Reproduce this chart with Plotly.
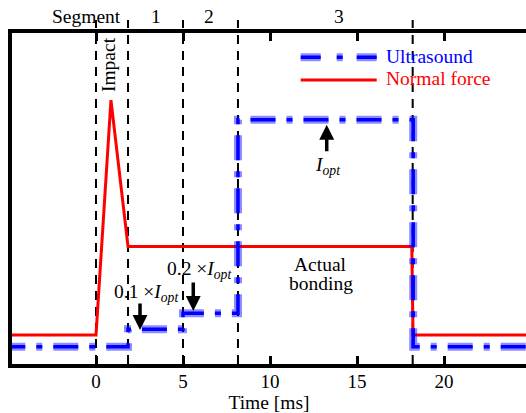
import plotly.graph_objects as go

# ---------------- data ----------------
# Normal force (arbitrary units) vs time [ms]
force_t = [-5.5, 0.0, 0.86, 1.84, 18.15, 18.22, 25.0]
force_v = [0.90, 0.90, 7.93, 3.55, 3.55, 0.90, 0.90]

# Ultrasound intensity step profile (value holds until next time)
us_t = [-5.5, 1.84, 5.0, 8.16, 18.23, 25.0]
us_v = [0.55, 1.07, 1.55, 7.34, 0.55, 0.55]

# segment boundaries (vertical dashed lines)
segment_bounds = [0.0, 1.84, 5.0, 8.16, 18.2]
segment_labels = ["1", "2", "3"]
segment_label_x = [3.45, 6.5, 13.97]

tick_vals = [0, 5, 10, 15, 20]

# ---------------- layout helpers ----------------
W, H = 526, 413
ML, MR, MT, MB = 12, 0, 33, 49
PW, PH = W - ML - MR, H - MT - MB
X_PER_PX = 1 / 17.4
Y_PER_PX = 1 / 33.4
x0 = -(96 - ML) * X_PER_PX
x1 = x0 + PW * X_PER_PX
y_bot = (365 - (H - MB)) * Y_PER_PX
y_top = (365 - MT) * Y_PER_PX


def px(x):
    return (x - ML) / PW


def py(y):
    return (H - MB - y) / PH


FONT = "Liberation Serif"
FS = 19.5
BLUE = "#0000ff"
HALO = "rgba(0,0,255,0.45)"
RED = "#ff0000"
US_DASH = "25px,11px,6px,11px"

fig = go.Figure()

fig.add_trace(go.Scatter(x=force_t, y=force_v, mode="lines",
                         line=dict(color=RED, width=3), showlegend=False,
                         hoverinfo="skip"))
fig.add_trace(go.Scatter(x=us_t, y=us_v, mode="lines", line_shape="hv",
                         line=dict(color=HALO, width=8, dash=US_DASH),
                         showlegend=False, hoverinfo="skip"))
fig.add_trace(go.Scatter(x=us_t, y=us_v, mode="lines", line_shape="hv",
                         line=dict(color=BLUE, width=3.5, dash=US_DASH),
                         showlegend=False, hoverinfo="skip"))

shapes = []
for b in segment_bounds:
    shapes.append(dict(type="line", xref="x", yref="paper", x0=b, x1=b,
                       y0=0, y1=py(20), layer="below",
                       line=dict(color="black", width=2, dash="9px,7px")))

# manual legend samples
lx0, lx1 = px(300.7), px(376.7)
shapes.append(dict(type="line", xref="paper", yref="paper", x0=lx0, x1=lx1,
                   y0=py(57.3), y1=py(57.3),
                   line=dict(color=HALO, width=8, dash="20px,16px,6px,14px")))
shapes.append(dict(type="line", xref="paper", yref="paper", x0=lx0, x1=lx1,
                   y0=py(57.3), y1=py(57.3),
                   line=dict(color=BLUE, width=3.5, dash="20px,16px,6px,14px")))
shapes.append(dict(type="line", xref="paper", yref="paper", x0=lx0, x1=lx1,
                   y0=py(80), y1=py(80), line=dict(color=RED, width=3)))

tf = dict(family=FONT, size=FS, color="black")
ann = []
ann.append(dict(text="Ultrasound", xref="paper", yref="paper", x=px(384),
                y=py(57), xanchor="left", yanchor="middle", showarrow=False,
                font=dict(family=FONT, size=FS, color=BLUE)))
ann.append(dict(text="Normal force", xref="paper", yref="paper", x=px(384),
                y=py(79), xanchor="left", yanchor="middle", showarrow=False,
                font=dict(family=FONT, size=FS, color=RED)))
ann.append(dict(text="Segment", xref="paper", yref="paper", x=px(123),
                y=py(17), xanchor="right", yanchor="middle", showarrow=False,
                font=tf))
for lab, lxv in zip(segment_labels, segment_label_x):
    ann.append(dict(text=lab, xref="x", yref="paper", x=lxv, y=py(17),
                    xanchor="center", yanchor="middle", showarrow=False,
                    font=tf))
ann.append(dict(text="Impact", x=0.69, y=8.98, textangle=-90,
                showarrow=False, font=tf))
ann.append(dict(text="Actual", x=12.93, y=3.02, showarrow=False, font=tf))
ann.append(dict(text="bonding", x=12.93, y=2.45, showarrow=False, font=tf))

opt = "<i>I</i><sub><i>opt</i></sub>"
ann.append(dict(text=opt, x=13.35, y=5.97, showarrow=False, font=tf))
ann.append(dict(text="0.1 ×" + opt, x=2.9, y=2.15, showarrow=False, font=tf))
ann.append(dict(text="0.2 ×" + opt, x=5.92, y=2.85, showarrow=False, font=tf))

arrow = dict(text="", showarrow=True, arrowhead=2, arrowsize=0.85,
             arrowwidth=3.5, arrowcolor="black", ax=0, standoff=0)
ann.append(dict(arrow, x=13.26, y=7.19, ay=28))
ann.append(dict(arrow, x=2.53, y=1.05, ay=-28))
ann.append(dict(arrow, x=5.59, y=1.62, ay=-30))

fig.update_layout(
    width=W, height=H,
    margin=dict(l=ML, r=MR, t=MT, b=MB, pad=0),
    paper_bgcolor="white", plot_bgcolor="white",
    font=dict(family=FONT, size=FS, color="black"),
    showlegend=False,
    shapes=shapes, annotations=ann,
    xaxis=dict(range=[x0, x1], tickvals=tick_vals, ticks="inside",
               ticklen=8, tickwidth=3, tickcolor="black",
               showline=True, linewidth=3.5, linecolor="black",
               mirror="ticks", showgrid=False, zeroline=False,
               ticklabelstandoff=-3,
               tickfont=dict(family=FONT, size=19, color="black"),
               title=dict(text="Time [ms]", standoff=0,
                          font=dict(family=FONT, size=FS, color="black"))),
    yaxis=dict(range=[y_bot, y_top], showline=True, linewidth=3.5,
               linecolor="black", showticklabels=False, ticks="",
               showgrid=False, zeroline=False),
)

fig.write_html("out.html", config={"displayModeBar": False},
               post_script="document.body.style.margin='0px';"
                           "document.body.style.overflow='hidden';")
